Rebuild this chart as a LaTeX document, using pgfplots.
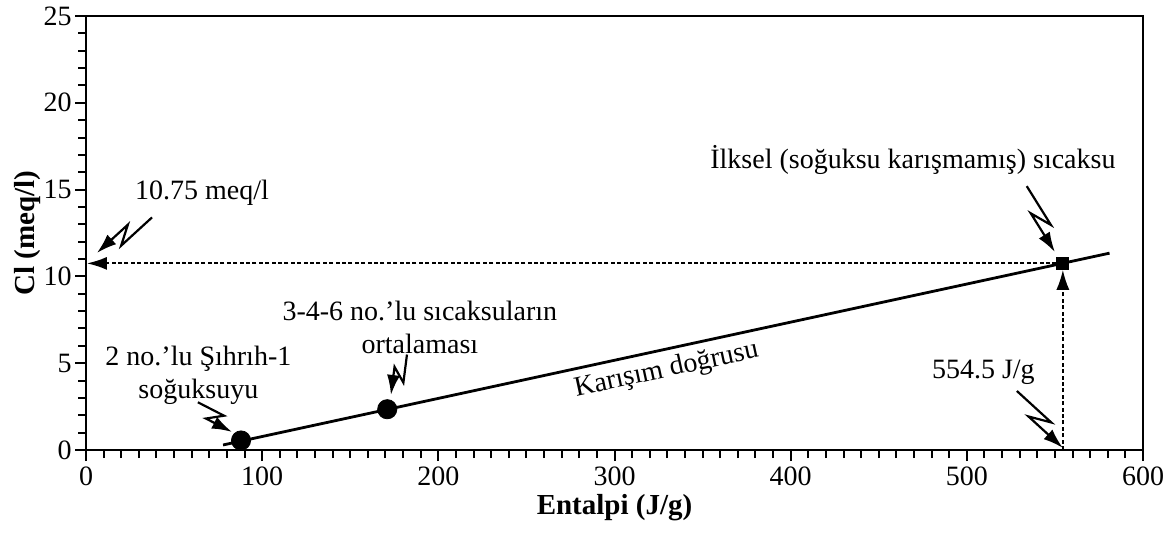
\documentclass[border=0pt]{standalone}
\usepackage{fontspec}
\setmainfont{Liberation Serif}
\usepackage{pgfplots}
\pgfplotsset{compat=1.18}
\usetikzlibrary{arrows.meta,calc}
\newcommand{\fs}{\fontsize{14}{16.5}\selectfont}
\newcommand{\zap}[2]{%
  \draw[line width=1.1pt,-{Latex[length=10pt,width=6.5pt]}] (#1) -- ($(#1)!0.63!(#2)!3.5pt!90:(#2)$) -- ($(#1)!0.37!(#2)!3.5pt!-90:(#2)$) -- (#2);}
\begin{document}
\begin{tikzpicture}
\begin{axis}[
  width=528.5pt, height=217pt, scale only axis,
  xmin=0, xmax=600, ymin=0, ymax=25,
  xtick={0,100,...,600}, ytick={0,5,...,25},
  minor x tick num=9, minor y tick num=4,
  tick align=outside, xtick pos=bottom, ytick pos=left,
  major tick length=5.5pt, minor tick length=4pt,
  every tick/.style={black, line width=1pt},
  axis line style={line width=1.4pt},
  tick label style={font=\fs},
  yticklabel style={inner sep=1.5pt},
  xticklabel style={inner sep=2.5pt},
  /pgf/number format/assume math mode=true,
  clip=false,
]
\coordinate (O) at (rel axis cs:0,0);
\coordinate (T) at (rel axis cs:1,1);
% mixing line
\addplot[black, line width=1.4pt] coordinates {(77.8,0.29) (581,11.34)};
% dashed guide lines
\addplot[black, line width=0.9pt, dash pattern=on 2pt off 1.2pt, -{Latex[length=10pt,width=6.5pt]}] coordinates {(554.5,10.75) (0.5,10.75)};
\addplot[black, line width=0.9pt, dash pattern=on 2pt off 1.2pt, -{Latex[length=10pt,width=6.5pt]}, shorten >=3.2pt] coordinates {(554.5,0) (554.5,10.75)};
% points
\addplot[only marks, mark=*, mark size=4.8pt, black] coordinates {(88,0.55) (171,2.35)};
\addplot[only marks, mark=square*, mark size=3pt, black] coordinates {(554.5,10.75)};
% annotation arrows
\zap{37.5,13.4}{6.2,11.35}
\zap{534,15.2}{550,11.4}
\zap{528.4,3.4}{554.5,0.12}
\zap{182.2,5.5}{173.1,3.17}
\zap{63.5,2.75}{82.9,1.04}
% texts
\node[font=\fs, inner sep=0] at (65.8,14.8) {10.75 meq/l};
\node[font=\fs, inner sep=0] at (469.4,16.7) {İlksel (soğuksu karışmamış) sıcaksu};
\node[font=\fs, inner sep=0] at (509.4,4.5) {554.5 J/g};
\node[font=\fs, inner sep=0, align=center] at (189.5,7.05) {3-4-6 no.’lu sıcaksuların\\ortalaması};
\node[font=\fs, inner sep=0, align=center] at (63.8,4.3) {2 no.’lu Şıhrıh-1\\soğuksuyu};
\node[font=\fs, inner sep=0, rotate=12.2] at (329.5,4.6) {Karışım doğrusu};
\end{axis}
\node[font=\fontsize{14.5}{17}\selectfont\bfseries] at ($(O)!0.5!(T|-O)+(0,-29pt)$) {Entalpi (J/g)};
\node[font=\fontsize{14.5}{17}\selectfont\bfseries, rotate=90] at ($(O)!0.5!(O|-T)+(-29pt,0)$) {Cl (meq/l)};
\pgfresetboundingbox
\path[use as bounding box] ($(O)+(-43pt,-41pt)$) rectangle ($(T)+(15.5pt,8pt)$);
\end{tikzpicture}
\end{document}
